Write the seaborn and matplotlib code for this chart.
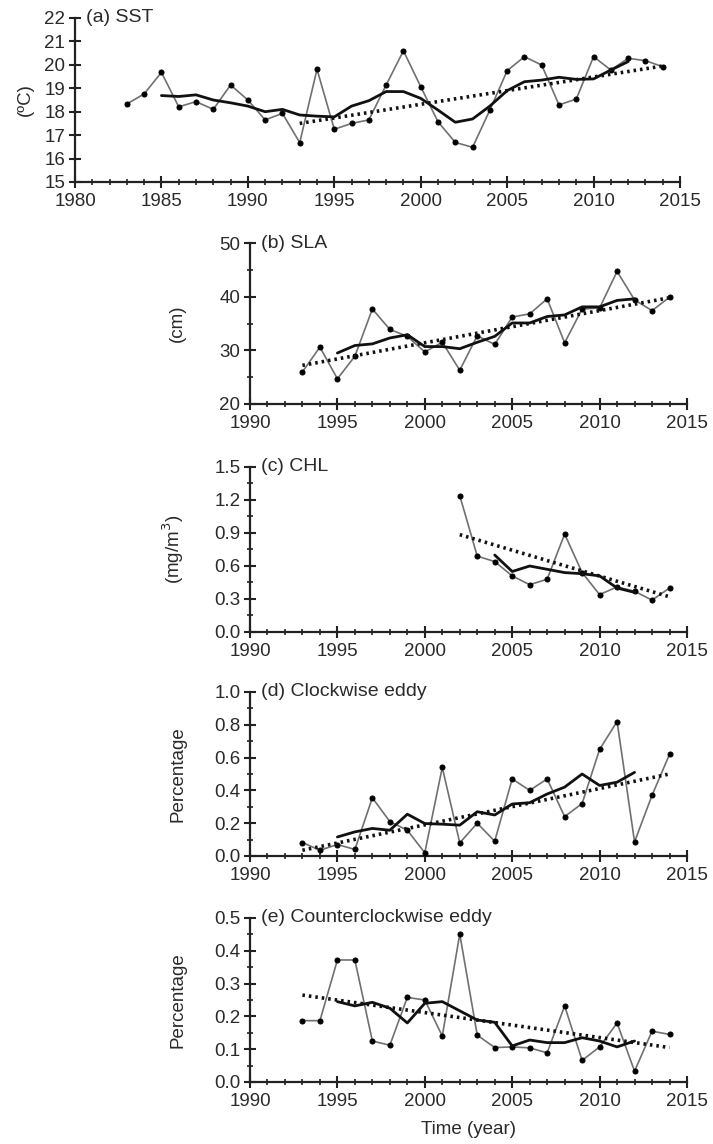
import matplotlib
matplotlib.use("Agg")
import matplotlib.pyplot as plt
import seaborn as sns
import numpy as np
import pandas as pd
from matplotlib.ticker import MultipleLocator

sns.set_style("ticks")
plt.rcParams['font.family'] = ['Liberation Sans', 'DejaVu Sans']

# ---------------- data ----------------
sst_years = list(range(1983, 2015))
sst_values = [18.33, 18.76, 19.68, 18.21, 18.43, 18.10, 19.14, 18.50, 17.65, 17.93,
              16.68, 19.81, 17.25, 17.50, 17.65, 19.14, 20.60, 19.07, 17.57, 16.69,
              16.48, 18.07, 19.75, 20.35, 19.99, 18.29, 18.54, 20.35, 19.78, 20.28,
              20.18, 19.92]
sst_ma_years = list(range(1985, 2013))
sst_ma_values = [18.69, 18.65, 18.72, 18.50, 18.38, 18.24, 18.00, 18.10, 17.86, 17.81,
                 17.78, 18.24, 18.47, 18.86, 18.86, 18.57, 18.07, 17.55, 17.69, 18.24,
                 18.90, 19.28, 19.35, 19.47, 19.38, 19.40, 19.78, 20.14]
sst_trend_years = [1993, 2014]
sst_trend_values = [17.50, 19.95]

sla_years = list(range(1993, 2015))
sla_values = [26.0, 30.6, 24.7, 28.9, 37.7, 33.9, 32.6, 29.7, 31.5, 26.3, 32.7,
              31.1, 36.2, 36.8, 39.6, 31.4, 37.7, 37.9, 44.7, 39.4, 37.4, 39.9]
sla_ma_years = list(range(1995, 2013))
sla_ma_values = [29.5, 30.9, 31.2, 32.3, 32.9, 30.7, 30.7, 30.3, 31.5, 32.6, 35.1,
                 35.1, 36.3, 36.6, 38.1, 38.1, 39.3, 39.6]
sla_trend_years = [1993, 2014]
sla_trend_values = [27.2, 39.8]

chl_years = list(range(2002, 2015))
chl_values = [1.24, 0.69, 0.64, 0.51, 0.43, 0.48, 0.89, 0.54, 0.34, 0.41, 0.37, 0.29, 0.40]
chl_ma_years = list(range(2004, 2013))
chl_ma_values = [0.70, 0.55, 0.60, 0.57, 0.54, 0.53, 0.51, 0.40, 0.36]
chl_trend_years = [2002, 2014]
chl_trend_values = [0.885, 0.32]

cw_years = list(range(1993, 2015))
cw_values = [0.082, 0.035, 0.07, 0.04, 0.355, 0.21, 0.157, 0.02, 0.54, 0.08, 0.20,
             0.09, 0.47, 0.40, 0.47, 0.24, 0.32, 0.65, 0.82, 0.086, 0.37, 0.62]
cw_ma_years = list(range(1995, 2013))
cw_ma_values = [0.116, 0.147, 0.168, 0.157, 0.255, 0.198, 0.194, 0.188, 0.27, 0.25,
                0.317, 0.325, 0.378, 0.42, 0.50, 0.43, 0.45, 0.51]
cw_trend_years = [1993, 2014]
cw_trend_values = [0.035, 0.50]

ccw_years = list(range(1993, 2015))
ccw_values = [0.187, 0.187, 0.372, 0.372, 0.125, 0.112, 0.258, 0.25, 0.14, 0.451, 0.143,
              0.105, 0.107, 0.104, 0.089, 0.232, 0.066, 0.107, 0.18, 0.033, 0.155, 0.145]
ccw_ma_years = list(range(1995, 2013))
ccw_ma_values = [0.245, 0.232, 0.243, 0.225, 0.18, 0.24, 0.245, 0.217, 0.189, 0.182,
                 0.11, 0.128, 0.12, 0.12, 0.135, 0.125, 0.107, 0.125]
ccw_trend_years = [1993, 2014]
ccw_trend_values = [0.265, 0.105]

panel_titles = ["(a) SST", "(b) SLA", "(c) CHL", "(d) Clockwise eddy",
                "(e) Counterclockwise eddy"]
y_labels = ["(\u00baC)", "(cm)", "(mg/m$^{3}$)", "Percentage", "Percentage"]

# ---------------- figure ----------------
W, H = 713, 1144
fig = plt.figure(figsize=(W / 100, H / 100), dpi=100)

def rect(l, r, t, b):
    return [l / W, 1 - b / H, (r - l) / W, (b - t) / H]

specs = [
    dict(rect=rect(75, 680, 18, 182), xlim=(1980, 2015), ylim=(15, 22), ymaj=1, ymin=None,
         yfmt="{:.0f}", data=(sst_years, sst_values, sst_ma_years, sst_ma_values,
                              sst_trend_years, sst_trend_values), ylab_x=-0.068),
    dict(rect=rect(250, 687, 243, 404), xlim=(1990, 2015), ylim=(20, 50), ymaj=10, ymin=5,
         yfmt="{:.0f}", data=(sla_years, sla_values, sla_ma_years, sla_ma_values,
                              sla_trend_years, sla_trend_values), ylab_x=-0.146),
    dict(rect=rect(250, 687, 467, 632), xlim=(1990, 2015), ylim=(0, 1.5), ymaj=0.3, ymin=0.15,
         yfmt="{:.1f}", data=(chl_years, chl_values, chl_ma_years, chl_ma_values,
                              chl_trend_years, chl_trend_values), ylab_x=-0.146),
    dict(rect=rect(250, 687, 692, 856), xlim=(1990, 2015), ylim=(0, 1.0), ymaj=0.2, ymin=0.1,
         yfmt="{:.1f}", data=(cw_years, cw_values, cw_ma_years, cw_ma_values,
                              cw_trend_years, cw_trend_values), ylab_x=-0.146),
    dict(rect=rect(250, 687, 918, 1082), xlim=(1990, 2015), ylim=(0, 0.5), ymaj=0.1, ymin=0.05,
         yfmt="{:.1f}", data=(ccw_years, ccw_values, ccw_ma_years, ccw_ma_values,
                              ccw_trend_years, ccw_trend_values), ylab_x=-0.146),
]

txt_color = "#2a2a2a"
fs = 13.5
fs_title = 14

for i, sp in enumerate(specs):
    ax = fig.add_axes(sp["rect"])
    yrs, vals, myrs, mvals, tyrs, tvals = sp["data"]
    sns.lineplot(x=yrs, y=vals, ax=ax, color="#707070", linewidth=1.2, marker="o",
                 markersize=3.6, markerfacecolor="black", markeredgecolor="black",
                 zorder=3)
    sns.lineplot(x=myrs, y=mvals, ax=ax, color="#111111", linewidth=2.0, zorder=4)
    sns.lineplot(x=tyrs, y=tvals, ax=ax, color="#111111", linewidth=2.6,
                 linestyle=(0, (0.7, 1.1)), zorder=5)
    ax.set_xlim(*sp["xlim"])
    ax.set_ylim(*sp["ylim"])
    ax.xaxis.set_major_locator(MultipleLocator(5))
    ax.xaxis.set_minor_locator(MultipleLocator(1))
    if sp["ymin"]:
        ax.yaxis.set_minor_locator(MultipleLocator(sp["ymin"]))
    yt = np.arange(sp["ylim"][0], sp["ylim"][1] + sp["ymaj"] / 2, sp["ymaj"])
    ax.set_yticks(yt)
    ax.set_yticklabels([sp["yfmt"].format(v) for v in yt])
    for s in ["top", "right"]:
        ax.spines[s].set_visible(False)
    for s in ["left", "bottom"]:
        ax.spines[s].set_linewidth(1.6)
        ax.spines[s].set_color("#222222")
    ax.tick_params(which="major", direction="inout", length=8, width=1.5,
                   labelsize=fs, labelcolor=txt_color, color="#222222")
    ax.tick_params(which="minor", direction="inout", length=5, width=1.2, color="#222222")
    ax.tick_params(axis="x", which="major", pad=4)
    ax.tick_params(axis="y", which="major", pad=3)
    ax.set_facecolor("none")
    ax.set_ylabel(y_labels[i], fontsize=fs, color=txt_color)
    ax.yaxis.set_label_coords(sp["ylab_x"], 0.5)
    ax.set_xlabel("Time (year)" if i == 4 else "", fontsize=fs, color=txt_color, labelpad=8)
    ax.annotate(panel_titles[i], xy=(0, 1.0), xycoords="axes fraction",
                xytext=(8, 0), textcoords="offset points", fontsize=fs_title,
                color=txt_color, ha="left", va="center")
    ax.grid(False)

fig.savefig("out.png", dpi=100)
